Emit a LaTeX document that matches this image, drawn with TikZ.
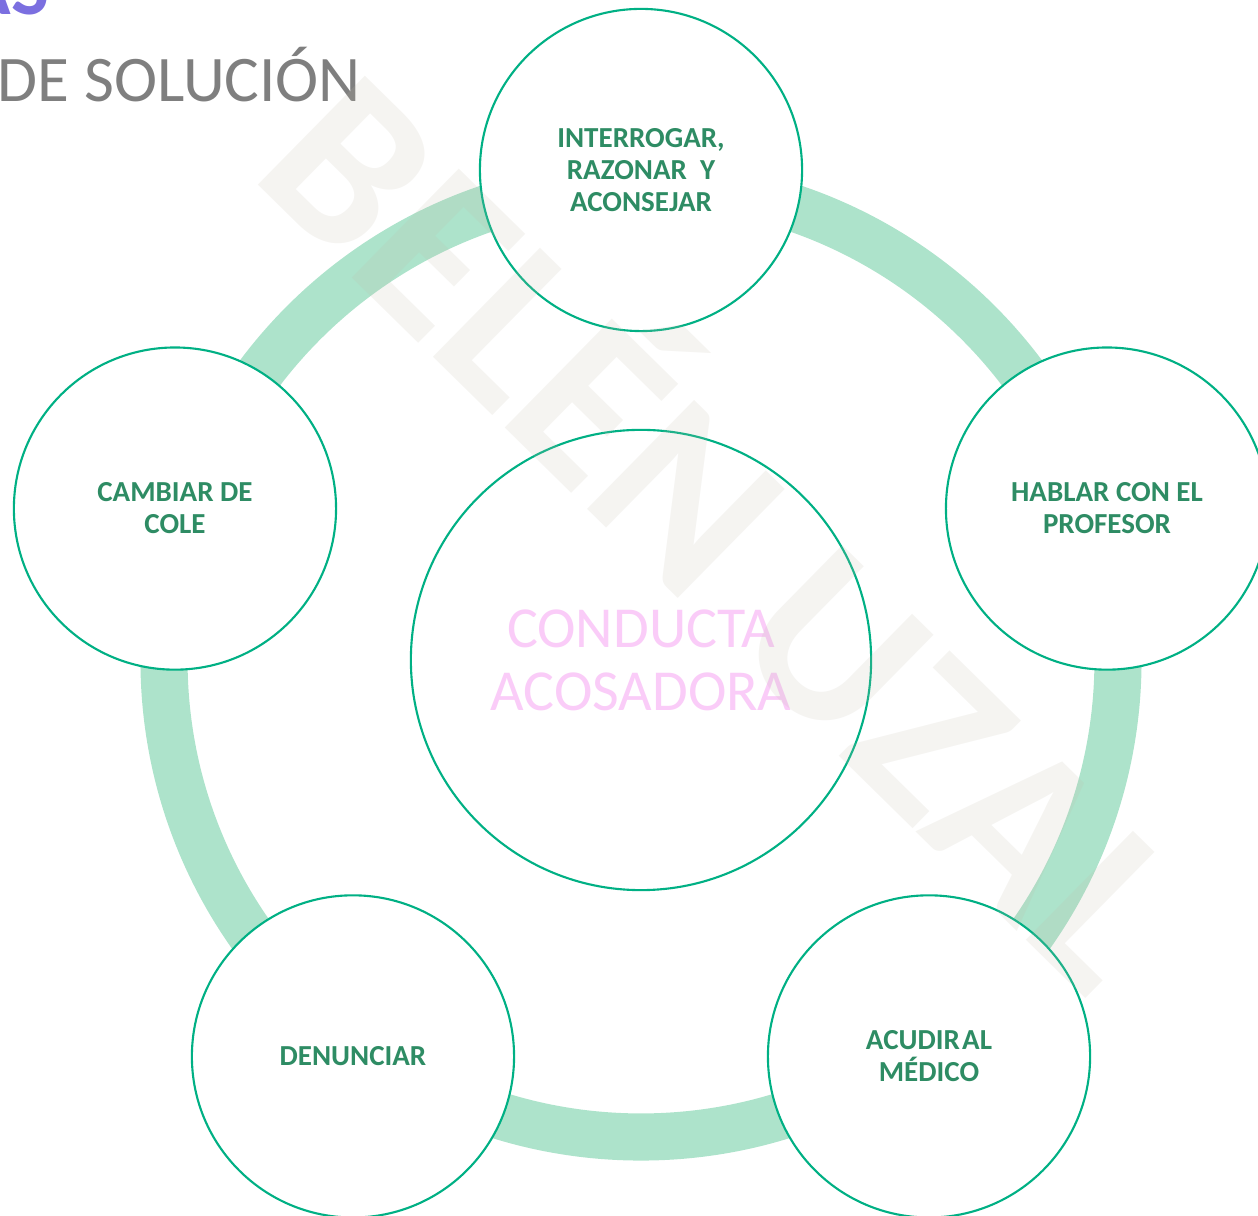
\documentclass[tikz,border=0pt]{standalone}
\usepackage{fontspec}
\setmainfont{Carlito}
\usepackage{xcolor}
\definecolor{ringgreen}{RGB}{173,227,203}
\definecolor{rimgreen}{RGB}{0,176,132}
\definecolor{labelgreen}{RGB}{46,140,100}
\definecolor{softpink}{RGB}{250,204,248}
\definecolor{titlegray}{RGB}{127,127,127}
\definecolor{titlepurple}{RGB}{123,111,224}
\definecolor{markgray}{RGB}{193,187,170}
\tikzset{%
    option/.style={%
        circle, draw=rimgreen, line width=0.6pt, fill=white,
        minimum size=3.22cm, inner sep=0pt, align=center,
        text=labelgreen, font=\fontsize{8.25}{9.1}\selectfont\bfseries
    }
}

\begin{document}
\begin{tikzpicture}[x=0.01cm,y=0.01cm]
\useasboundingbox (-641,-556) rectangle (617,660);
% ring behind the five options
\draw[ringgreen, line width=13.4pt] (0,0) circle (477);
\node[option, minimum size=4.6cm, text=softpink,
      font=\fontsize{16.5}{17.9}\selectfont] (core) at (0,0) {CONDUCTA\\ACOSADORA};
\node[option] (ask)     at (90:490)   {INTERROGAR,\\RAZONAR\ \ Y\\ACONSEJAR};
\node[option] (teacher) at (18:490)   {HABLAR CON EL\\PROFESOR};
\node[option] (doctor)  at (-54:490)  {ACUDIR\hspace{0.08em}AL\\MÉDICO};
\node[option] (report)  at (-126:490) {DENUNCIAR};
\node[option] (school)  at (162:490)  {CAMBIAR DE\\COLE};
% heading, cut at the page edge
\node[anchor=base east, inner sep=0pt, text=titlepurple,
      font=\fontsize{22.8}{24}\selectfont\bfseries] (heading) at (-591,645) {AS};
\node[anchor=base west, inner sep=0pt, text=titlegray,
      font=\fontsize{18.5}{20}\selectfont] (subtitle) at (-644,558) {DE SOLUCIÓN};
% watermark over everything
\node[anchor=base west, inner sep=0pt, rotate=-44.5, text=markgray, text opacity=0.16,
      font=\fontsize{67}{70}\selectfont\bfseries] (mark) at (-393,485) {BELÉN UZAL};
\end{tikzpicture}
\end{document}
